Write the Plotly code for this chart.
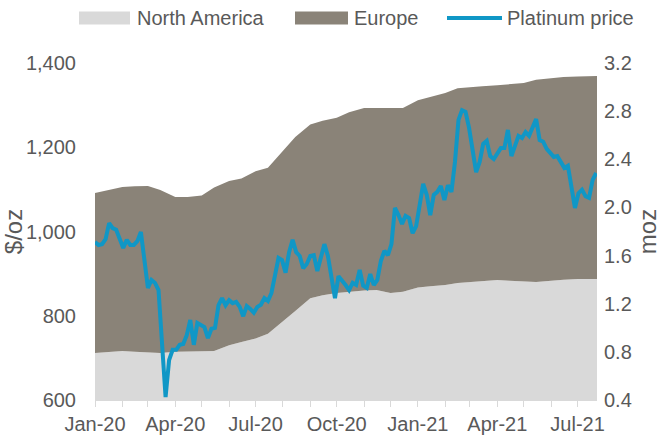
import plotly.graph_objects as go
import pandas as pd

# ---- data ----
area_dates = ["2020-01-01","2020-01-15","2020-02-01","2020-02-15","2020-03-01","2020-03-15",
              "2020-04-01","2020-04-15","2020-05-01","2020-05-15","2020-06-01","2020-06-15",
              "2020-07-01","2020-07-15","2020-08-01","2020-08-15","2020-09-01","2020-09-15",
              "2020-10-01","2020-10-15","2020-11-01","2020-11-15","2020-12-01","2020-12-15",
              "2021-01-01","2021-01-15","2021-02-01","2021-02-15","2021-03-01","2021-03-15",
              "2021-04-01","2021-04-15","2021-05-01","2021-05-15","2021-06-01","2021-06-15",
              "2021-07-01","2021-07-15","2021-07-23"]

north_america = [0.79,0.80,0.807,0.80,0.795,0.79,0.80,0.80,0.805,0.807,0.855,0.882,
                 0.91,0.95,1.05,1.14,1.245,1.27,1.29,1.30,1.31,1.314,1.29,1.30,
                 1.335,1.345,1.355,1.372,1.38,1.39,1.397,1.39,1.385,1.38,1.39,1.40,
                 1.405,1.405,1.405]

europe = [1.33,1.34,1.363,1.375,1.383,1.355,1.287,1.287,1.295,1.358,1.365,1.358,
          1.39,1.38,1.42,1.445,1.445,1.45,1.455,1.49,1.516,1.512,1.536,1.526,
          1.555,1.57,1.595,1.618,1.62,1.616,1.618,1.635,1.649,1.68,1.685,1.684,
          1.683,1.685,1.687]

# platinum price sampled every 4 days from 1 Jan 2020
price_start = "2020-01-01"
price = [975,968,970,982,1020,1008,1004,985,961,980,
         968,968,977,999,932,866,885,878,861,735,
         607,695,719,719,731,733,754,790,731,783,
         778,773,747,769,771,825,842,825,837,830,
         833,821,799,823,816,807,821,826,842,835,
         854,897,937,932,902,951,980,951,942,913,
         923,942,944,906,937,970,942,885,842,894,
         885,873,861,878,873,909,871,866,899,873,
         885,930,954,944,970,1056,1039,1018,1037,1032,
         996,1013,1063,1113,1087,1039,1087,1094,1108,1075,
         1110,1094,1165,1265,1288,1284,1246,1198,1141,1165,
         1208,1215,1179,1172,1186,1198,1198,1241,1179,1205,
         1227,1222,1236,1227,1250,1267,1217,1213,1196,1186,
         1177,1179,1167,1151,1156,1099,1056,1091,1099,1084,
         1080,1122,1139]
price_dates = pd.date_range(price_start, periods=len(price), freq="4D")

series_names = ["North America", "Europe", "Platinum price"]
x_range = ["2020-01-01", "2021-07-23"]
left_range = [600, 1400]
right_range = [0.4, 3.2]

GREY_TXT = "#595959"
NA_COL = "#d9d9d9"
EU_COL = "#8a8378"
PT_COL = "#1097c6"
FONT = "Liberation Sans, Arial, sans-serif"

W, H = 667, 437
ML, MR, MT, MB = 95, 70, 63, 37
PW, PH = W - ML - MR, H - MT - MB

def px(xp):  # pixel x -> paper x
    return (xp - ML) / PW

def py(yp):  # pixel y -> paper y
    return (H - MB - yp) / PH

fig = go.Figure()
fig.add_trace(go.Scatter(x=area_dates, y=north_america, name=series_names[0],
                         stackgroup="s", mode="lines", line=dict(width=0, color=NA_COL),
                         fillcolor=NA_COL, yaxis="y", showlegend=False))
fig.add_trace(go.Scatter(x=area_dates, y=europe, name=series_names[1],
                         stackgroup="s", mode="lines", line=dict(width=0, color=EU_COL),
                         fillcolor=EU_COL, yaxis="y", showlegend=False))
fig.add_trace(go.Scatter(x=price_dates, y=price, name=series_names[2], mode="lines",
                         line=dict(width=4, color=PT_COL), yaxis="y2", showlegend=False))

# legend drawn as swatches + labels above the plot
shapes = [
    dict(type="rect", xref="paper", yref="paper", x0=px(79), x1=px(130), y0=py(24.5), y1=py(11.5),
         fillcolor=NA_COL, line=dict(width=0)),
    dict(type="rect", xref="paper", yref="paper", x0=px(295), x1=px(348), y0=py(24.5), y1=py(11.5),
         fillcolor=EU_COL, line=dict(width=0)),
    dict(type="line", xref="paper", yref="paper", x0=px(447), x1=px(502), y0=py(18), y1=py(18),
         line=dict(color=PT_COL, width=4)),
]
annotations = [
    dict(text=series_names[0], xref="paper", yref="paper", x=px(135), y=py(18),
         xanchor="left", yanchor="middle", showarrow=False, font=dict(size=20, color=GREY_TXT)),
    dict(text=series_names[1], xref="paper", yref="paper", x=px(352), y=py(18),
         xanchor="left", yanchor="middle", showarrow=False, font=dict(size=20, color=GREY_TXT)),
    dict(text=series_names[2], xref="paper", yref="paper", x=px(505), y=py(18),
         xanchor="left", yanchor="middle", showarrow=False, font=dict(size=20, color=GREY_TXT)),
]

fig.update_layout(
    width=W, height=H,
    margin=dict(l=ML, r=MR, t=MT, b=MB),
    paper_bgcolor="white", plot_bgcolor="white",
    font=dict(family=FONT, size=20, color=GREY_TXT),
    showlegend=False,
    shapes=shapes, annotations=annotations,
    xaxis=dict(type="date", range=x_range, dtick="M3", tick0="2020-01-01",
               tickformat="%b-%y", ticks="outside", ticklen=6, tickcolor=NA_COL,
               showline=True, linecolor=NA_COL, linewidth=1, showgrid=False,
               automargin=False,
               minor=dict(dtick="M1", ticks="outside", ticklen=6, tickcolor=NA_COL, showgrid=False)),
    yaxis=dict(side="right", range=right_range, dtick=0.4, tick0=0.4, tickformat=".1f",
               showgrid=False, zeroline=False, showline=False, automargin=False,
               ticklabelstandoff=6, title=dict(text="moz", standoff=8)),
    yaxis2=dict(side="left", overlaying="y", range=left_range, dtick=200, tick0=600,
                tickformat=",", showgrid=False, zeroline=False, showline=False,
                automargin=False, ticklabelstandoff=18, title=dict(text="$/oz", standoff=2)),
)

fig.write_html("out.html",
               config={"displayModeBar": False, "staticPlot": True},
               post_script="document.body.style.margin='0';document.body.style.overflow='hidden';")
